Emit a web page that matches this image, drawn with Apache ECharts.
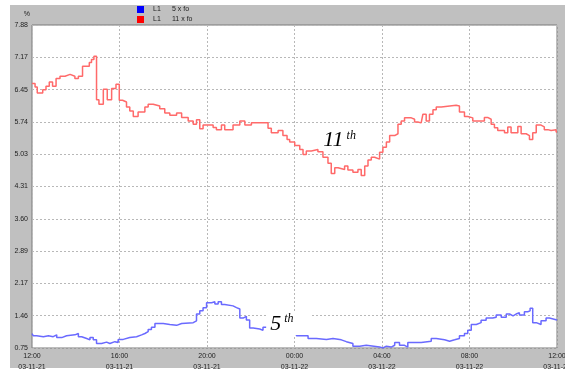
<!DOCTYPE html>
<html>
<head>
<meta charset="utf-8">
<script src="https://cdn.jsdelivr.net/npm/echarts@6/dist/echarts.min.js"></script>
<style>
  html, body { margin: 0; padding: 0; background: #ffffff; }
  #chart { width: 565px; height: 370px; }
</style>
</head>
<body>
<div id="chart"></div>
<script>
// Harmonic distortion of phase L1, 24 h recording (hours from 12:00 on 03-11-21)
const phaseName = 'L1';
const seriesNames = ['5 x fo', '11 x fo'];

// x-axis tick labels, every 4 hours
const xTickLabels = [
  '12:00\n03-11-21', '16:00\n03-11-21', '20:00\n03-11-21',
  '00:00\n03-11-22', '04:00\n03-11-22', '08:00\n03-11-22', '12:00\n03-11-22'
];
// y-axis tick labels (%)
const yTickLabels = ['0.75', '1.46', '2.17', '2.89', '3.60', '4.31', '5.03', '5.74', '6.45', '7.17', '7.88'];
const yMin = 0.75;
const yMax = 7.88;

// 11th harmonic: time of each level change (h) and level (%)
const h11Hours = [
  0, 0.14, 0.24, 0.49, 0.64, 0.79, 0.94, 1.10, 1.28, 1.51,
  1.74, 1.96, 2.12, 2.31, 2.62, 2.72, 2.83, 2.95, 3.06, 3.26,
  3.44, 3.64, 3.84, 3.99, 4.14, 4.32, 4.47, 4.63, 4.85, 5.16,
  5.31, 5.54, 5.84, 6.07, 6.30, 6.61, 6.84, 7.14, 7.37, 7.52,
  7.67, 7.82, 8.28, 8.43, 8.66, 8.81, 9.19, 9.50, 9.73, 10.03,
  10.79, 10.94, 11.25, 11.47, 11.66, 11.78, 12.01, 12.24, 12.39, 12.54,
  12.77, 13.07, 13.30, 13.53, 13.68, 13.84, 13.99, 14.29, 14.44, 14.67,
  14.90, 15.05, 15.21, 15.36, 15.51, 15.66, 15.89, 16.04, 16.20, 16.35,
  16.58, 16.73, 16.88, 17.03, 17.34, 17.49, 17.64, 17.79, 17.87, 18.02,
  18.17, 18.33, 18.48, 18.71, 19.39, 19.54, 19.77, 19.92, 20.15, 20.68,
  20.83, 20.99, 21.14, 21.29, 21.60, 21.75, 21.90, 22.21, 22.36, 22.59,
  22.74, 22.89, 23.05, 23.27, 23.42, 23.58, 23.73, 23.96, 24
];
const h11Values = [
  6.59, 6.51, 6.38, 6.45, 6.53, 6.62, 6.53, 6.70, 6.75, 6.79,
  6.75, 6.70, 6.75, 6.97, 7.05, 7.12, 7.19, 6.23, 6.13, 6.46,
  6.23, 6.48, 6.57, 6.22, 6.18, 6.07, 5.98, 5.86, 5.96, 6.07,
  6.13, 6.09, 6.03, 5.94, 5.89, 5.94, 5.84, 5.76, 5.69, 5.79,
  5.59, 5.67, 5.62, 5.57, 5.67, 5.57, 5.67, 5.76, 5.67, 5.72,
  5.60, 5.50, 5.55, 5.44, 5.35, 5.30, 5.22, 5.13, 5.02, 5.10,
  5.13, 5.08, 4.96, 4.83, 4.60, 4.73, 4.69, 4.77, 4.68, 4.63,
  4.69, 4.56, 4.77, 4.90, 4.96, 4.92, 5.07, 5.18, 5.30, 5.44,
  5.48, 5.69, 5.76, 5.83, 5.80, 5.74, 5.72, 5.76, 5.91, 5.76,
  5.91, 6.01, 6.07, 6.11, 6.09, 5.96, 5.86, 5.83, 5.76, 5.84,
  5.80, 5.69, 5.61, 5.55, 5.50, 5.63, 5.50, 5.64, 5.48, 5.44,
  5.35, 5.50, 5.67, 5.63, 5.57, 5.55, 5.57, 5.52, 5.52
];

// 5th harmonic: time of each level change (h) and level (%)
const h5Hours = [
  0, 0.06, 0.21, 0.52, 0.75, 0.97, 1.13, 1.36, 1.58, 1.96,
  2.12, 2.27, 2.50, 2.65, 2.80, 2.95, 3.18, 3.41, 3.56, 3.79,
  3.94, 4.17, 4.47, 4.78, 5.01, 5.16, 5.31, 5.46, 5.62, 6.00,
  6.30, 6.61, 6.84, 7.37, 7.52, 7.67, 7.82, 7.98, 8.21, 8.36,
  8.51, 8.66, 8.81, 9.19, 9.35, 9.50, 9.65, 9.80, 9.95, 10.11,
  10.41, 10.56, 10.72, 11.42, 12.09, 12.62, 13.00, 13.46, 13.76, 14.14,
  14.37, 14.67, 14.98, 15.28, 15.89, 16.04, 16.20, 16.42, 16.58, 16.80,
  17.03, 17.18, 17.79, 18.25, 18.48, 18.86, 19.09, 19.32, 19.54, 19.77,
  19.92, 20.08, 20.31, 20.53, 20.76, 21.06, 21.22, 21.45, 21.68, 21.83,
  21.99, 22.13, 22.28, 22.51, 22.66, 22.77, 22.89, 23.05, 23.27, 23.50,
  23.65, 24
];
const h5Values = [
  1.07, 1.02, 1.00, 1.02, 1.00, 1.04, 0.98, 1.02, 1.04, 1.07,
  1.00, 0.96, 0.93, 0.98, 0.93, 0.85, 0.88, 0.85, 0.89, 0.87,
  0.94, 0.98, 1.00, 1.04, 1.07, 1.11, 1.16, 1.21, 1.29, 1.27,
  1.25, 1.29, 1.31, 1.35, 1.50, 1.57, 1.64, 1.75, 1.77, 1.72,
  1.77, 1.71, 1.68, 1.64, 1.61, 1.41, 1.45, 1.37, 1.19, 1.17,
  1.14, 1.21, 1.17, 1.10, 1.02, 0.96, 0.94, 0.96, 0.93, 0.89,
  0.85, 0.79, 0.81, 0.77, 0.75, 0.79, 0.77, 0.81, 0.87, 0.81,
  0.77, 0.87, 0.90, 0.96, 0.93, 0.90, 0.93, 0.96, 1.02, 1.07,
  1.14, 1.27, 1.31, 1.36, 1.41, 1.43, 1.48, 1.43, 1.50, 1.46,
  1.50, 1.53, 1.48, 1.55, 1.57, 1.63, 1.31, 1.27, 1.35, 1.41,
  1.37, 1.37
];

const zip = (xs, ys) => xs.map((x, i) => [x, ys[i]]);

const labelFont = 'Liberation Sans, Arial, sans-serif';
const serifFont = 'Liberation Serif, Times New Roman, serif';

// harmonic-order caption drawn as a markPoint label
const orderCaption = (coord, digits, boxed) => ({
  symbol: 'rect',
  symbolSize: 1,
  silent: true,
  itemStyle: { color: 'rgba(0,0,0,0)' },
  data: [{
    coord: coord,
    label: {
      show: true,
      position: 'inside',
      formatter: '{n|' + digits + '}{s|th}',
      backgroundColor: boxed ? '#ffffff' : 'transparent',
      padding: boxed ? [2, 18, 0, 4] : 0,
      rich: {
        n: { fontFamily: serifFont, fontStyle: 'italic', fontSize: 22, color: '#000', lineHeight: 20 },
        s: { fontFamily: serifFont, fontStyle: 'italic', fontSize: 12, color: '#000', padding: [0, 0, 10, 3] }
      }
    }
  }]
});

const chart = echarts.init(document.getElementById('chart'), null, { renderer: 'canvas' });

chart.setOption({
  animation: false,
  backgroundColor: '#ffffff',
  graphic: [{
    type: 'rect',
    z: -10,
    silent: true,
    shape: { x: 10, y: 5, width: 555, height: 363 },
    style: { fill: '#c0c0c0' }
  }],
  legend: {
    orient: 'vertical',
    left: 137,
    top: 6,
    itemWidth: 7,
    itemHeight: 7,
    itemGap: 3,
    padding: 0,
    icon: 'rect',
    data: [
      { name: seriesNames[0], itemStyle: { color: '#0000ff' } },
      { name: seriesNames[1], itemStyle: { color: '#ff0000' } }
    ],
    formatter: name => '{a|' + phaseName + '}{b|' + name + '}',
    textStyle: {
      fontFamily: labelFont,
      fontSize: 7,
      color: '#222',
      rich: {
        a: { fontSize: 7, fontFamily: labelFont, color: '#222', width: 19, padding: [0, 0, 0, 4] },
        b: { fontSize: 7, fontFamily: labelFont, color: '#222' }
      }
    }
  },
  grid: {
    left: 32,
    right: 8,
    top: 25,
    bottom: 22,
    outerBoundsMode: 'none',
    containLabel: false,
    show: true,
    backgroundColor: '#ffffff',
    borderColor: '#7a7a7a',
    borderWidth: 1
  },
  xAxis: {
    type: 'value',
    min: 0,
    max: 24,
    interval: 4,
    axisLine: { show: false },
    axisTick: { show: false },
    splitLine: { show: true, lineStyle: { color: '#b8b8b8', type: [2, 2], width: 1 } },
    axisLabel: {
      margin: 3,
      fontFamily: labelFont,
      fontSize: 7,
      lineHeight: 11,
      color: '#222',
      showMaxLabel: true,
      hideOverlap: false,
      formatter: v => xTickLabels[Math.round(v / 4)]
    }
  },
  yAxis: [{
    // visible scale: one step per tick label
    type: 'value',
    min: 0,
    max: yTickLabels.length - 1,
    interval: 1,
    name: '%',
    nameLocation: 'end',
    nameGap: 7,
    nameTextStyle: { fontFamily: labelFont, fontSize: 7, color: '#222', align: 'right', padding: [0, 2, 0, 0] },
    axisLine: { show: false },
    axisTick: { show: false },
    splitLine: { show: true, lineStyle: { color: '#b8b8b8', type: [2, 2], width: 1 } },
    axisLabel: {
      margin: 4,
      fontFamily: labelFont,
      fontSize: 7,
      color: '#222',
      formatter: v => yTickLabels[Math.round(v)]
    }
  }, {
    // value scale used by the series
    type: 'value',
    min: yMin,
    max: yMax,
    show: false,
    splitLine: { show: false }
  }],
  series: [{
    name: seriesNames[0],
    type: 'line',
    yAxisIndex: 1,
    step: 'end',
    symbol: 'none',
    color: '#0000ff',
    lineStyle: { color: '#6a6aff', width: 1.5 },
    data: zip(h5Hours, h5Values),
    markPoint: orderCaption([11.74, 1.30], '5', true)
  }, {
    name: seriesNames[1],
    type: 'line',
    yAxisIndex: 1,
    step: 'end',
    symbol: 'none',
    color: '#ff0000',
    lineStyle: { color: '#ff6a6a', width: 1.5 },
    data: zip(h11Hours, h11Values),
    markPoint: orderCaption([14.06, 5.33], '11', false)
  }]
});
</script>
</body>
</html>
